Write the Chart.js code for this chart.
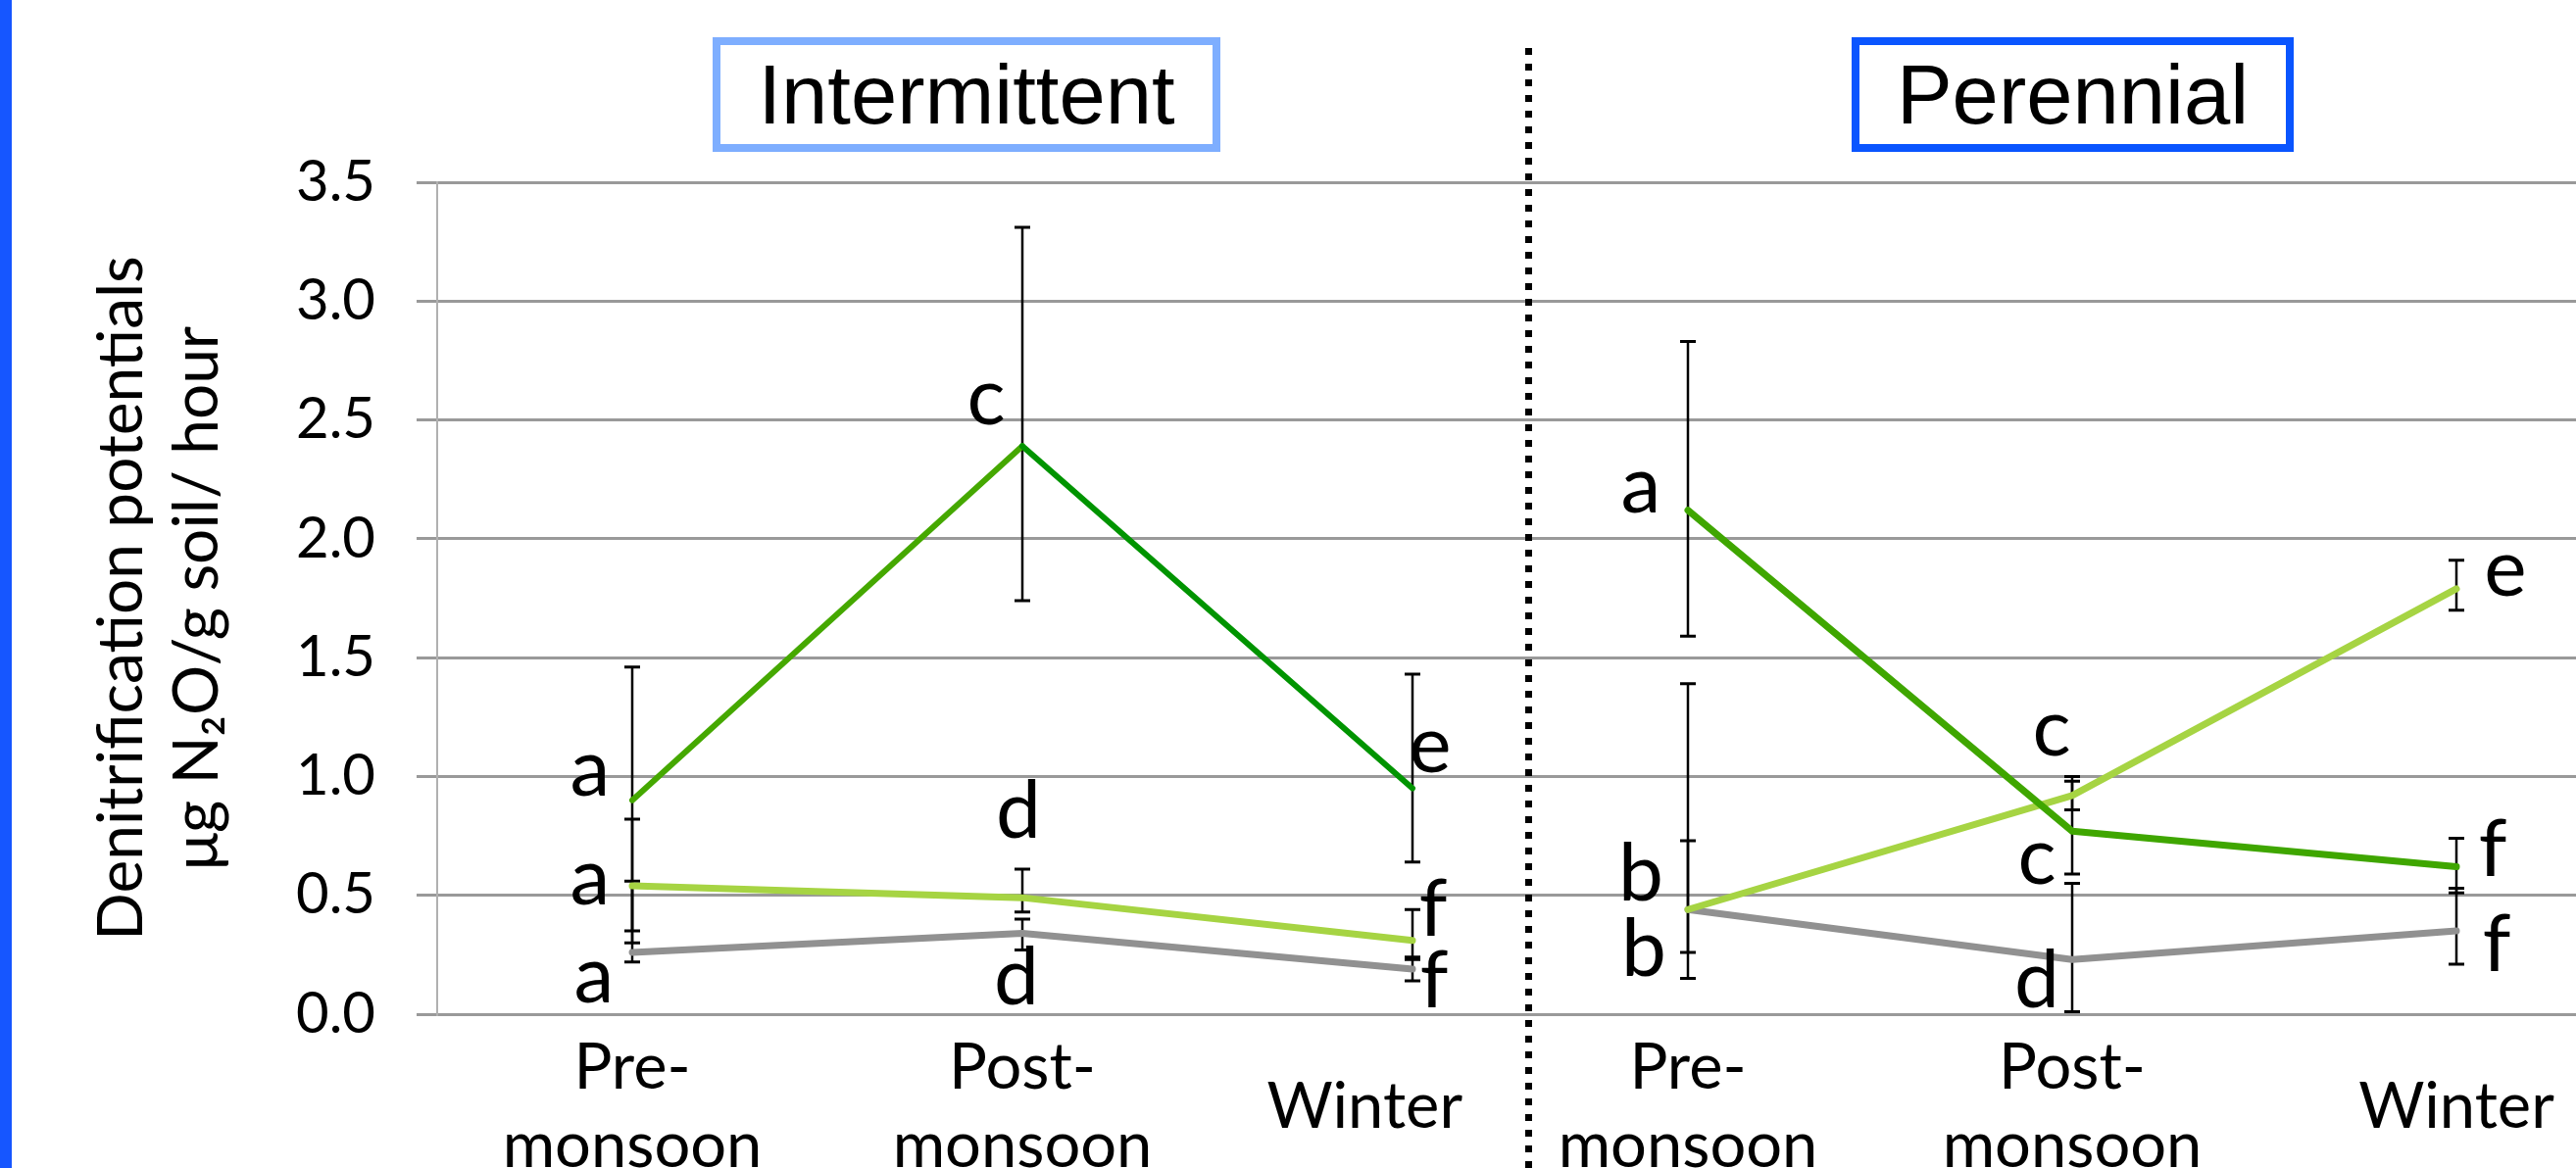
<!DOCTYPE html>
<html>
<head>
<meta charset="utf-8">
<script src="https://cdn.jsdelivr.net/npm/chart.js@4.4.1/dist/chart.umd.min.js"></script>
<style>
  html, body { margin: 0; padding: 0; width: 2628px; height: 1192px; overflow: hidden; background: #fff; }
  body { position: relative; }
  .panel { position: absolute; top: 0; height: 1192px; }
  #leftPanel { left: 0; width: 1700px; }
  #rightPanel { left: 1490px; width: 1212px; }
  .box {
    position: absolute; top: 38px; height: 117px; box-sizing: border-box;
    border: 8px solid; display: flex; align-items: center; justify-content: center;
    font-family: "Liberation Sans", Arial, sans-serif; font-size: 85px; line-height: 1; color: #000;
  }
  #boxI { left: 727px; width: 518px; border-color: #7eaeff; }
  #boxP { left: 1889px; width: 451px; border-color: #0a55ff; }
  #divider {
    position: absolute; left: 1556px; top: 49px; width: 7px; height: 1143px;
    background: repeating-linear-gradient(to bottom, #000 0 7px, transparent 7px 16px);
  }
  #blueBar { position: absolute; left: 0; top: 0; width: 12px; height: 1192px; background: #1656ff; }
</style>
</head>
<body>
<div id="blueBar"></div>
<div class="panel" id="leftPanel"><canvas id="chartI" width="1700" height="1192"></canvas></div>
<div class="panel" id="rightPanel"><canvas id="chartP" width="1212" height="1192"></canvas></div>
<div id="divider"></div>
<div class="box" id="boxI">Intermittent</div>
<div class="box" id="boxP">Perennial</div>

<script>
// Données
const seasons = [['Pre-', 'monsoon'], ['Post-', 'monsoon'], 'Winter'];

// Intermittent
const intDark = [0.90, 2.39, 0.95];
const intDarkLow = [0.35, 1.74, 0.64];
const intDarkHigh = [1.46, 3.31, 1.43];
const intLight = [0.54, 0.49, 0.31];
const intLightLow = [0.30, 0.43, 0.24];
const intLightHigh = [0.82, 0.61, 0.44];
const intGray = [0.26, 0.34, 0.19];
const intGrayLow = [0.22, 0.27, 0.14];
const intGrayHigh = [0.56, 0.40, 0.23];

// Perennial
const perDark = [2.12, 0.77, 0.62];
const perDarkLow = [1.59, 0.59, 0.51];
const perDarkHigh = [2.83, 0.98, 0.74];
const perLight = [0.44, 0.92, 1.79];
const perLightLow = [0.26, 0.86, 1.70];
const perLightHigh = [1.39, 1.00, 1.91];
const perGray = [0.44, 0.23, 0.35];
const perGrayLow = [0.15, 0.01, 0.21];
const perGrayHigh = [0.73, 0.55, 0.53];

// lettres de signification : [saison, lettre, valeur de la ligne de base, décalage x]
const intLetters = [
  [0, 'a', 0.92, -43], [0, 'a', 0.46, -43], [0, 'a', 0.05, -39],
  [1, 'c', 2.48, -37], [1, 'd', 0.74, -4], [1, 'd', 0.04, -6],
  [2, 'e', 1.02, 18], [2, 'f', 0.33, 21], [2, 'f', 0.03, 22]
];
const perLetters = [
  [0, 'a', 2.11, -48], [0, 'b', 0.48, -48], [0, 'b', 0.16, -45],
  [1, 'c', 1.09, -21], [1, 'c', 0.55, -36], [1, 'd', 0.03, -36],
  [2, 'e', 1.76, 50], [2, 'f', 0.58, 37], [2, 'f', 0.18, 41]
];

const DARK = '#3fa600';
const LIGHT = '#a6d443';
const GRAY = '#919191';
const FONT = 'Lato, "Noto Sans", sans-serif';

// barres d'erreur sous les lignes
const errorBars = {
  id: 'errorBars',
  beforeDatasetsDraw(chart) {
    const ctx = chart.ctx;
    const x = chart.scales.x, y = chart.scales.y;
    ctx.save();
    ctx.strokeStyle = '#000';
    chart.data.datasets.forEach(ds => {
      ds.data.forEach((v, i) => {
        const px = x.getPixelForValue(i);
        const top = y.getPixelForValue(ds.errHigh[i]);
        const bot = y.getPixelForValue(ds.errLow[i]);
        ctx.lineWidth = 2.5;
        ctx.beginPath();
        ctx.moveTo(px, top);
        ctx.lineTo(px, bot);
        ctx.stroke();
        ctx.lineWidth = 3;
        ctx.beginPath();
        ctx.moveTo(px - 8, top); ctx.lineTo(px + 8, top);
        ctx.moveTo(px - 8, bot); ctx.lineTo(px + 8, bot);
        ctx.stroke();
      });
    });
    ctx.restore();
  }
};

// lettres
const letterMarks = {
  id: 'letterMarks',
  afterDatasetsDraw(chart, args, opts) {
    const ctx = chart.ctx;
    const x = chart.scales.x, y = chart.scales.y;
    ctx.save();
    ctx.fillStyle = '#000';
    ctx.font = '82px ' + FONT;
    ctx.textAlign = 'center';
    ctx.textBaseline = 'alphabetic';
    opts.items.forEach(([cat, txt, at, dx]) => {
      ctx.fillText(txt, x.getPixelForValue(cat) + dx, y.getPixelForValue(at));
    });
    ctx.restore();
  }
};

function makeChart(id, sets, letters, withAxis) {
  return new Chart(document.getElementById(id), {
    type: 'line',
    data: { labels: seasons, datasets: sets },
    plugins: [errorBars, letterMarks],
    options: {
      responsive: false,
      animation: false,
      layout: { padding: { top: 186, right: withAxis ? 60 : 0, bottom: 0, left: 0 } },
      elements: { point: { radius: 0 }, line: { tension: 0, borderCapStyle: 'round', borderJoinStyle: 'round' } },
      plugins: {
        legend: { display: false },
        tooltip: { enabled: false },
        letterMarks: { items: letters }
      },
      scales: {
        x: {
          offset: true,
          grid: { display: false, drawTicks: false },
          border: { display: false },
          ticks: {
            color: '#000', font: { family: FONT, size: 65, lineHeight: 1.23 },
            maxRotation: 0, autoSkip: false, padding: 55, crossAlign: 'center',
            // à gauche, "Winter" est décalé pour laisser place au pointillé
            callback: (v, i) => (withAxis && i === 2) ? seasons[i] + '\u2003\u2003' : seasons[i]
          },
          afterFit: s => { s.height = 157; }
        },
        y: {
          min: 0, max: 3.5,
          grid: { color: '#999', lineWidth: 3, drawTicks: true, tickLength: withAxis ? 21 : 36 },
          border: { display: withAxis, color: '#b0b0b0', width: 2 },
          ticks: {
            display: withAxis, stepSize: 0.5, padding: 42, color: '#000',
            font: { family: FONT, size: 58 },
            callback: v => v.toFixed(1)
          },
          title: {
            display: withAxis,
            text: ['Denitrification potentials', 'μg N₂O/g soil/ hour'],
            color: '#000',
            font: { family: FONT, size: 64, lineHeight: 1.2 },
            padding: { top: 86, bottom: 0 }
          },
          afterFit: s => { s.width = withAxis ? 446 : 36; }
        }
      }
    }
  });
}

makeChart('chartI', [
  { label: 'dark', data: intDark, errLow: intDarkLow, errHigh: intDarkHigh, borderColor: DARK, borderWidth: 6,
    segment: { borderColor: c => c.p0DataIndex === 0 ? '#45a800' : '#009400' } },
  { label: 'light', data: intLight, errLow: intLightLow, errHigh: intLightHigh, borderColor: LIGHT, borderWidth: 7 },
  { label: 'gray', data: intGray, errLow: intGrayLow, errHigh: intGrayHigh, borderColor: GRAY, borderWidth: 7 }
], intLetters, true);

makeChart('chartP', [
  { label: 'dark', data: perDark, errLow: perDarkLow, errHigh: perDarkHigh, borderColor: DARK, borderWidth: 7 },
  { label: 'light', data: perLight, errLow: perLightLow, errHigh: perLightHigh, borderColor: LIGHT, borderWidth: 7 },
  { label: 'gray', data: perGray, errLow: perGrayLow, errHigh: perGrayHigh, borderColor: GRAY, borderWidth: 7 }
], perLetters, false);
</script>
</body>
</html>
